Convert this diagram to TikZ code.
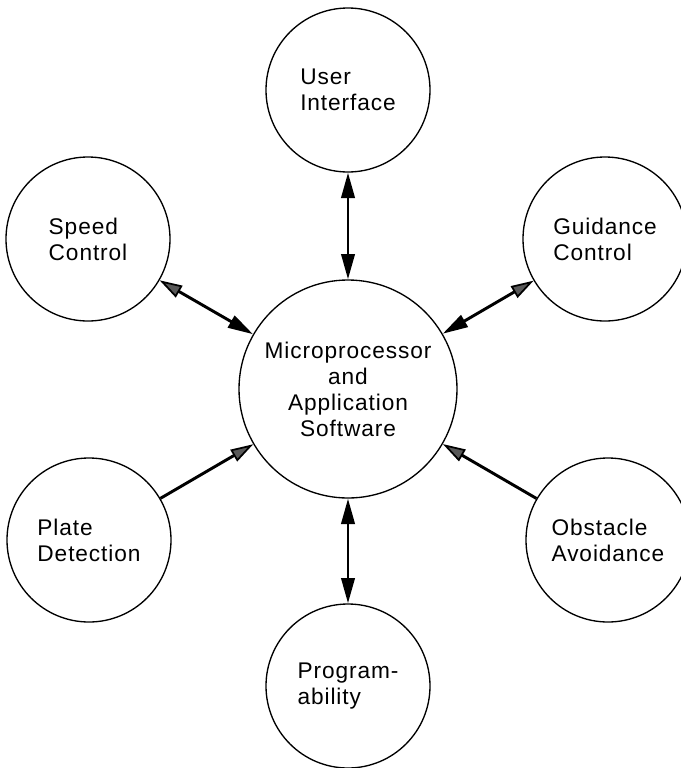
\documentclass[tikz,border=0pt]{standalone}
\usepackage{fontspec}
\setmainfont{Liberation Sans}[LetterSpace=4]
\usetikzlibrary{arrows.meta}

\begin{document}
\begin{tikzpicture}[x=0.75pt,y=-0.75pt,
  sat/.style={circle,draw,line width=1pt,minimum size=123pt,inner sep=0pt,
    align=left,font=\fontsize{17}{19.5}\selectfont},
  hub/.style={circle,draw,line width=1pt,minimum size=163.5pt,inner sep=0pt,
    align=center,font=\fontsize{17}{19.5}\selectfont},
  link/.style={line width=2.2pt},
  blk/.tip={Triangle[length=19pt,width=10pt]},
  hat/.tip={Triangle[length=17pt,width=10pt,fill=black!65,line width=1.3pt]},
]
\useasboundingbox (0,0) rectangle (681,768);

\node[hub] (main) at (348,389) {Microprocessor\\and\\Application\\Software};

\node[sat] (ui)    at (348,90)  {User\\Interface};
\node[sat] (speed) at (88,239)  {Speed\\Control};
\node[sat] (guid)  at (605,239) {Guidance\\Control};
\node[sat] (plate) at (89,540)  {Plate\\Detection};
\node[sat] (obst)  at (608,540) {Obstacle\\Avoidance};
\node[sat] (prog)  at (348,686) {Program-\\ability};

\draw[link,blk-blk] (ui) -- (main);
\draw[link,hat-blk] (speed) -- (main);
\draw[link,hat-blk] (guid) -- (main);
\draw[link,-hat] (plate) -- (main);
\draw[link,-hat] (obst) -- (main);
\draw[link,blk-blk] (main) -- (prog);
\end{tikzpicture}
\end{document}
